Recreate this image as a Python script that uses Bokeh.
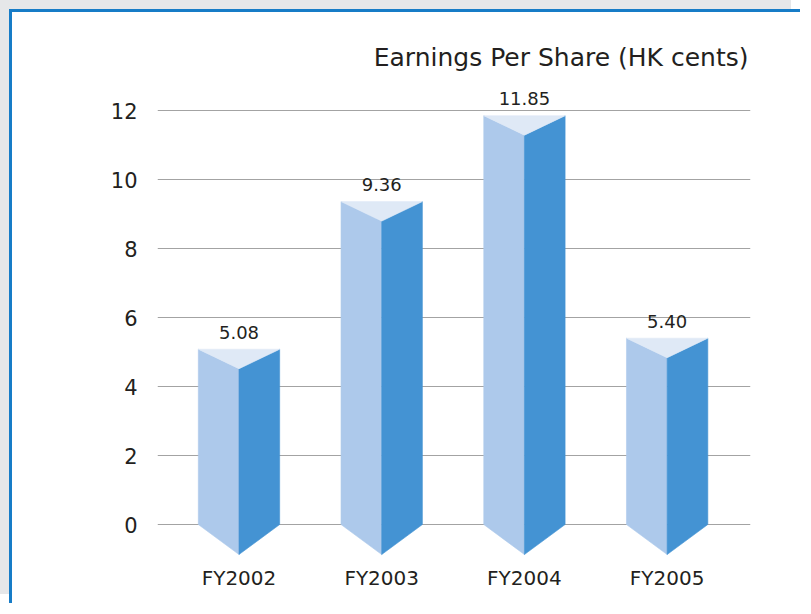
from bokeh.plotting import figure
from bokeh.models import Range1d, FixedTicker, ColumnDataSource
from bokeh.core.properties import value
from bokeh.embed import file_html
from bokeh.resources import INLINE

# ---- data ----
categories = ["FY2002", "FY2003", "FY2004", "FY2005"]
eps = [5.08, 9.36, 11.85, 5.40]
y_ticks = [0, 2, 4, 6, 8, 10, 12]
title_text = "Earnings Per Share (HK cents)"

# ---- style constants ----
HALF_W = 0.285      # half bar width (x units)
TOP_DROP = 0.565    # depth of top triangle face (y units)
BOT_DROP = 0.87     # depth of bottom point below zero (y units)
LEFT_C = "#adc9eb"
RIGHT_C = "#4493d3"
TOP_C = "#dfe9f6"
TEXT_C = "#231f20"
FONT = "DejaVu Sans"

pos = list(range(len(categories)))

p = figure(width=791, height=594, output_backend="svg", toolbar_location=None,
           x_range=Range1d(-0.571, 3.584), y_range=Range1d(-1.043, 12.870),
           min_border_left=145, min_border_right=53, min_border_top=68,
           min_border_bottom=46, title=title_text)
p.styles = {"margin-left": "9px", "margin-top": "9px",
            "border-left": "3px solid #177cc7", "border-top": "3px solid #177cc7",
            "background": "white",
            "box-shadow": "-9px -9px 0 0 #e6e7e9"}
p.background_fill_color = "white"
p.border_fill_color = "white"
p.outline_line_color = None

p.title.align = "right"
p.title.offset = 2
p.title.text_font = FONT
p.title.text_font_size = "25px"
p.title.text_font_style = "normal"
p.title.text_color = TEXT_C
p.title.standoff = 17

left_src = ColumnDataSource(dict(
    xs=[[c - HALF_W, c, c, c - HALF_W] for c in pos],
    ys=[[v, v - TOP_DROP, -BOT_DROP, 0] for v in eps]))
right_src = ColumnDataSource(dict(
    xs=[[c, c + HALF_W, c + HALF_W, c] for c in pos],
    ys=[[v - TOP_DROP, v, 0, -BOT_DROP] for v in eps]))
top_src = ColumnDataSource(dict(
    xs=[[c - HALF_W, c + HALF_W, c] for c in pos],
    ys=[[v, v, v - TOP_DROP] for v in eps]))

p.patches("xs", "ys", source=left_src, fill_color=LEFT_C, line_color=LEFT_C, line_width=0.6)
p.patches("xs", "ys", source=right_src, fill_color=RIGHT_C, line_color=RIGHT_C, line_width=0.6)
p.patches("xs", "ys", source=top_src, fill_color=TOP_C, line_color=TOP_C, line_width=0.6)

lab_src = ColumnDataSource(dict(x=pos, y=eps, t=["%.2f" % v for v in eps]))
p.text("x", "y", text="t", source=lab_src, text_align="center", text_baseline="middle",
       y_offset=-17, text_font=value(FONT), text_font_size="18px", text_color=TEXT_C)

# axes
p.yaxis.ticker = FixedTicker(ticks=y_ticks)
p.yaxis.axis_line_color = None
p.yaxis.major_tick_line_color = None
p.yaxis.minor_tick_line_color = None
p.yaxis.major_tick_out = 0
p.yaxis.major_tick_in = 0
p.yaxis.major_label_standoff = 20
p.yaxis.major_label_text_font = FONT
p.yaxis.major_label_text_font_size = "21px"
p.yaxis.major_label_text_color = TEXT_C

p.xaxis.ticker = FixedTicker(ticks=pos)
p.xaxis.major_label_overrides = {i: c for i, c in zip(pos, categories)}
p.xaxis.axis_line_color = None
p.xaxis.major_tick_line_color = None
p.xaxis.minor_tick_line_color = None
p.xaxis.major_tick_out = 0
p.xaxis.major_tick_in = 0
p.xaxis.major_label_standoff = 5
p.xaxis.major_label_text_font = FONT
p.xaxis.major_label_text_font_size = "20px"
p.xaxis.major_label_text_color = TEXT_C

p.xgrid.grid_line_color = None
p.ygrid.grid_line_color = "#a3a3a3"
p.ygrid.grid_line_width = 1

html = file_html(p, INLINE)
open("out.html", "w").write(html)
